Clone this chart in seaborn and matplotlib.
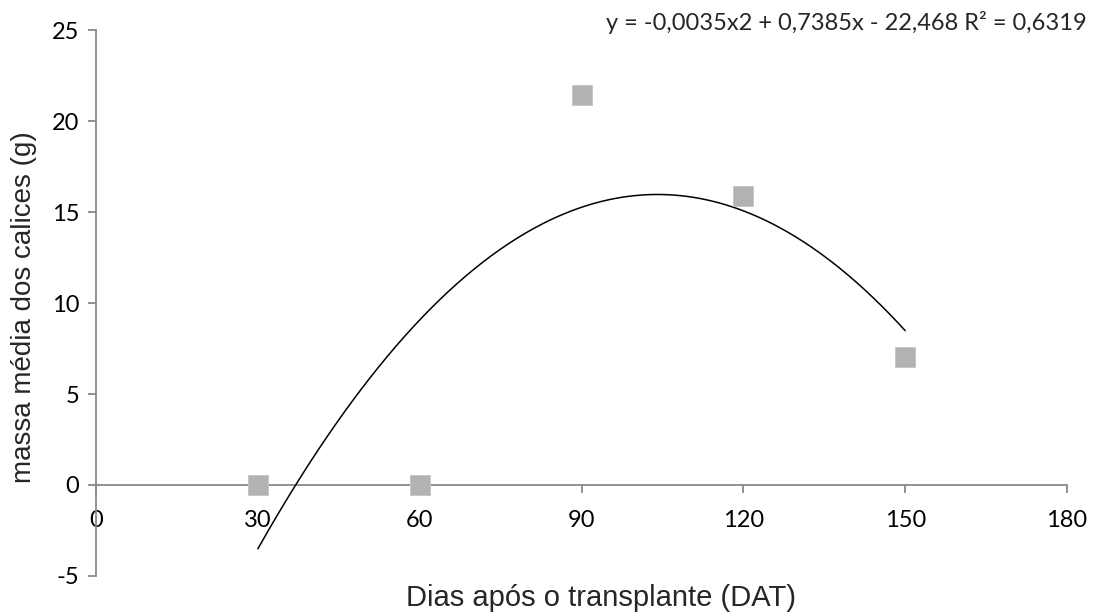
import numpy as np
import pandas as pd
import matplotlib
matplotlib.use("Agg")
import matplotlib.pyplot as plt
import seaborn as sns

# Mass of calyces per sampling date
dias = [30, 60, 90, 120, 150]
massa = [0.0, 0.0, 21.4345, 15.903, 7.035]
x_ticks = [0, 30, 60, 90, 120, 150, 180]
y_ticks = [-5, 0, 5, 10, 15, 20, 25]

df = pd.DataFrame({"dias": dias, "massa": massa})

sns.set_theme(style="white")
plt.rcParams["font.family"] = ["Lato", "DejaVu Sans"]

fig = plt.figure(figsize=(10.94, 6.14), dpi=100)
ax = fig.add_axes([0.0878, 0.0619, 0.8875, 0.8892])

axis_grey = "#898989"

# Second-order polynomial trendline fitted to the observations
coef = np.polyfit(df["dias"], df["massa"], 2)
fitted = np.polyval(coef, df["dias"])
ss_res = np.sum((df["massa"] - fitted) ** 2)
ss_tot = np.sum((df["massa"] - df["massa"].mean()) ** 2)
r2 = 1 - ss_res / ss_tot
xs = np.linspace(min(dias), max(dias), 300)
sns.lineplot(x=xs, y=np.polyval(coef, xs), ax=ax, color="black", linewidth=1.1, zorder=3)

sns.scatterplot(data=df, x="dias", y="massa", ax=ax, marker="s", s=200,
                color="#B2B2B2", edgecolor="#C4C4C4", linewidth=0.6, zorder=4)

ax.set_xlim(0, 180)
ax.set_ylim(-5, 25)
ax.set_xticks(x_ticks)
ax.set_yticks(y_ticks)
ax.set_xticklabels([str(v) for v in x_ticks])
ax.set_yticklabels([str(v) for v in y_ticks])

# x axis crosses at y = 0, Excel style
for side in ("top", "right"):
    ax.spines[side].set_visible(False)
ax.spines["bottom"].set_position(("data", 0))
for side in ("left", "bottom"):
    ax.spines[side].set_color(axis_grey)
    ax.spines[side].set_linewidth(1.3)
ax.spines["left"].set_zorder(1)
ax.spines["bottom"].set_zorder(1)

ax.tick_params(axis="both", which="major", direction="out", length=6,
               width=1.3, color=axis_grey, labelsize=17, labelcolor="black",
               left=True, bottom=True)
ax.tick_params(axis="x", pad=12)
ax.tick_params(axis="y", pad=6)

ax.set_xlabel("")
ax.set_ylabel("")
fig.text(0.549, 0.026, "Dias após o transplante (DAT)", ha="center", va="center",
         fontsize=21, family=["Liberation Sans", "DejaVu Sans"])
fig.text(0.022, 0.500, "massa média dos calices (g)", ha="center", va="center",
         rotation=90, fontsize=20, family=["Liberation Sans", "DejaVu Sans"])


def br(v, nd):
    return f"{v:.{nd}f}".replace(".", ",")


a2, a1, a0 = coef
eq = (f"y = {br(a2, 4)}x2 + {br(a1, 4)}x - {br(abs(a0), 3)} "
      f"R\u00b2 = {br(r2, 4)}")
fig.text(0.9935, 0.964, eq, ha="right", va="center", fontsize=17)

fig.savefig("out.png", dpi=100, facecolor="white")
